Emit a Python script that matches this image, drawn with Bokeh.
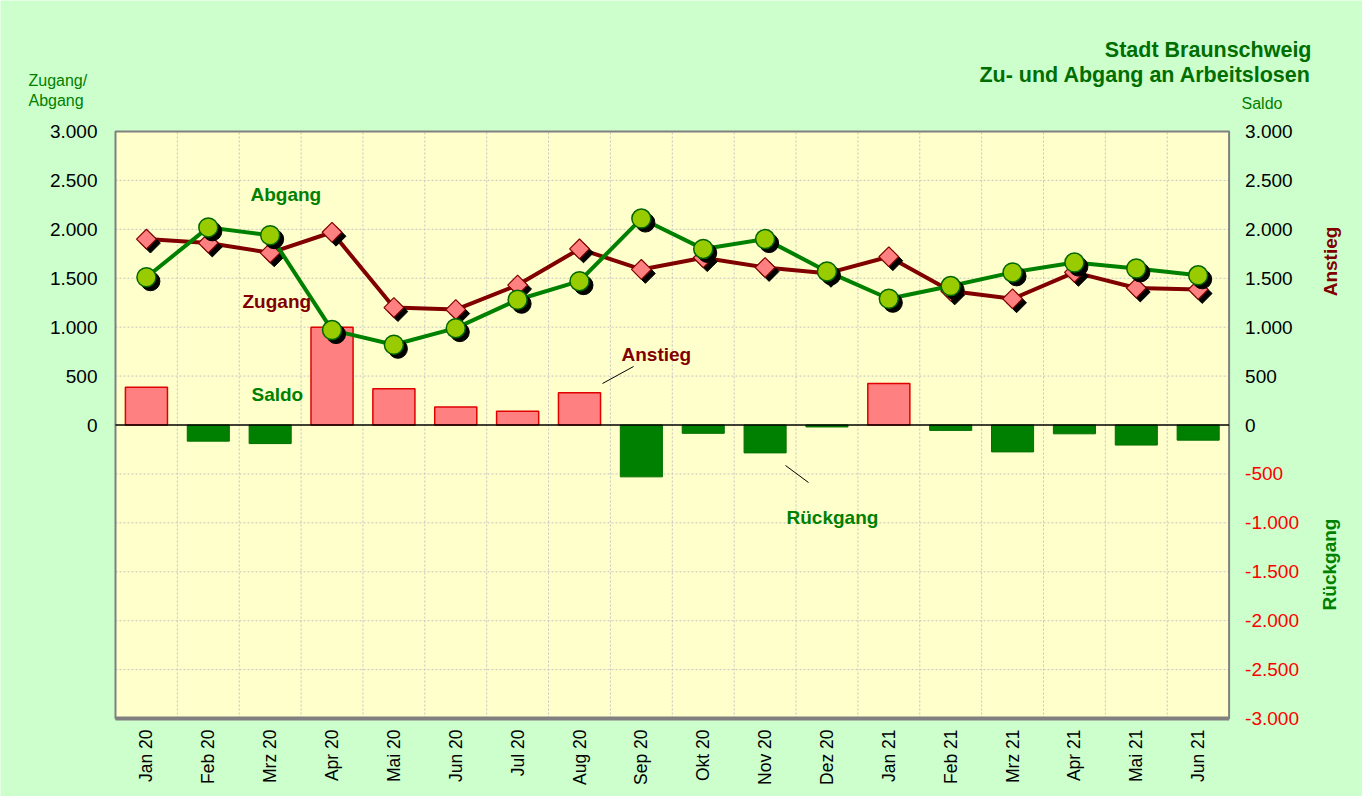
import numpy as np
from math import pi
from bokeh.plotting import figure
from bokeh.models import Range1d, FixedTicker, LinearAxis, Label
from bokeh.embed import file_html
from bokeh.resources import INLINE

# ---------------- data ----------------
months = ["Jan 20", "Feb 20", "Mrz 20", "Apr 20", "Mai 20", "Jun 20", "Jul 20",
          "Aug 20", "Sep 20", "Okt 20", "Nov 20", "Dez 20", "Jan 21", "Feb 21",
          "Mrz 21", "Apr 21", "Mai 21", "Jun 21"]
zugang = [1900, 1860, 1760, 1970, 1200, 1180, 1430, 1800, 1590, 1710, 1610,
          1550, 1720, 1370, 1290, 1560, 1400, 1385]
abgang = [1510, 2020, 1940, 970, 820, 990, 1280, 1470, 2110, 1800, 1900,
          1570, 1290, 1420, 1560, 1660, 1600, 1530]
saldo = [385, -165, -190, 1000, 370, 185, 140, 330, -530, -85, -285, -20,
         425, -55, -275, -90, -205, -155]

y_ticks = [0, 500, 1000, 1500, 2000, 2500, 3000]
y_tick_labels = ["0", "500", "1.000", "1.500", "2.000", "2.500", "3.000"]
neg_ticks = [-500, -1000, -1500, -2000, -2500, -3000]
neg_tick_labels = ["-500", "-1.000", "-1.500", "-2.000", "-2.500", "-3.000"]
y_min, y_max = -3000, 3000

# ---------------- layout (pixels) ----------------
W, H = 1362, 796
PL, PR, PT, PB = 115.0, 1228.6, 131.0, 718.0   # plot area edges
FONT = "Liberation Sans"
GREEN = "#008000"
TGREEN = "#006E00"
DARKRED = "#800000"

n = len(months)
x = np.arange(n)
z = np.array(zugang, dtype=float)
a = np.array(abgang, dtype=float)
s = np.array(saldo, dtype=float)

x_lo, x_hi = -0.5, n - 0.5
ux = (PR - PL) / (x_hi - x_lo)          # px per category
uy = (PB - PT) / (y_max - y_min)        # px per unit
x_start = x_lo - PL / ux
x_end = x_lo + (W - PL) / ux
y_top = y_max + PT / uy
y_bot = y_min - (H - PB) / uy


def dx(px):
    return x_start + px / ux


def dy(py):
    return y_top - py / uy


p = figure(width=W, height=H, output_backend="svg", toolbar_location=None,
           x_range=Range1d(x_start, x_end), y_range=Range1d(y_bot, y_top),
           min_border_left=0, min_border_right=0, min_border_top=0,
           min_border_bottom=0, background_fill_color="#CCFFCC",
           border_fill_color="#CCFFCC", outline_line_color=None)
p.styles = {"outline": "1px solid #808080", "outline-offset": "-4px"}
p.xgrid.visible = False
p.ygrid.visible = False

# plot area
p.quad(left=[x_lo], right=[x_hi], bottom=[y_min], top=[y_max],
       fill_color="#FFFFCC", line_color=None)

# grid lines
vg = x[:-1] + 0.5
p.segment(x0=vg, y0=[y_min] * len(vg), x1=vg, y1=[y_max] * len(vg),
          line_color="#C4C4C4", line_dash="2 2", line_width=1)
hg = np.array(neg_ticks + y_ticks[1:-1], dtype=float)
p.segment(x0=[x_lo] * len(hg), y0=hg, x1=[x_hi] * len(hg), y1=hg,
          line_color="#C4C4C4", line_dash="2 2", line_width=1)

# plot-area border
p.quad(left=[x_lo], right=[x_hi], bottom=[y_min], top=[y_max],
       fill_color=None, line_color="#808080", line_width=2)
p.segment(x0=[x_lo], y0=[y_min], x1=[x_hi], y1=[y_min],
          line_color="#808080", line_width=4)

# bars (Saldo)
pos = s > 0
p.vbar(x=x[pos], top=s[pos], bottom=0, width=0.68, fill_color="#FF8080",
       line_color="#E00000", line_width=1.5)
p.vbar(x=x[~pos], top=s[~pos], bottom=0, width=0.68, fill_color="#008000",
       line_color="#007000", line_width=1)
p.segment(x0=[x_lo], y0=[0], x1=[x_hi], y1=[0], line_color="black",
          line_width=1.5)

# shadow offsets (4 px right / down)
sdx = 4 / ux
sdy = 4 / uy

# Zugang
p.line(x, z, line_color=DARKRED, line_width=4)
p.scatter(x + sdx, z - sdy, marker="square", angle=pi / 4, size=14,
          fill_color="black", line_color="black")
p.scatter(x, z, marker="square", angle=pi / 4, size=14, fill_color="#FF8080",
          line_color=DARKRED, line_width=1.2)

# Abgang
p.line(x, a, line_color=GREEN, line_width=4)
p.scatter(x + sdx, a - sdy, marker="circle", size=19, fill_color="black",
          line_color="black")
p.scatter(x, a, marker="circle", size=19, fill_color="#99CC00",
          line_color="#006600", line_width=1.5)


# axes (fixed at the plot-area edges)
def style_axis(ax, size, color, standoff):
    ax.axis_line_color = None
    ax.major_tick_line_color = None
    ax.minor_tick_line_color = None
    ax.major_tick_out = 0
    ax.major_tick_in = 0
    ax.major_label_standoff = standoff
    ax.major_label_text_font = FONT
    ax.major_label_text_font_size = size
    ax.major_label_text_color = color


xa = p.xaxis[0]
xa.fixed_location = y_min
xa.ticker = FixedTicker(ticks=list(x))
xa.major_label_overrides = {int(i): m for i, m in zip(x, months)}
xa.major_label_orientation = pi / 2
style_axis(xa, "17.5px", "black", 11)

yl = p.yaxis[0]
yl.fixed_location = x_lo
yl.ticker = FixedTicker(ticks=y_ticks)
yl.major_label_overrides = dict(zip(y_ticks, y_tick_labels))
style_axis(yl, "19px", "black", 18)

yr = LinearAxis(fixed_location=x_hi, ticker=FixedTicker(ticks=y_ticks),
                major_label_overrides=dict(zip(y_ticks, y_tick_labels)))
style_axis(yr, "19px", "black", 16)
p.add_layout(yr, "right")

yr2 = LinearAxis(fixed_location=x_hi, ticker=FixedTicker(ticks=neg_ticks),
                 major_label_overrides=dict(zip(neg_ticks, neg_tick_labels)))
style_axis(yr2, "19px", "#FF0000", 16)
p.add_layout(yr2, "right")


# texts (positions given in reference pixels, mapped through the scales)
def lab(text, px, py, color, size, bold=False, align="left",
        baseline="alphabetic", angle=0.0):
    p.add_layout(Label(x=dx(px), y=dy(py), text=text, text_color=color,
                       text_font=FONT, text_font_size=size, text_align=align,
                       text_baseline=baseline, angle=angle,
                       text_font_style="bold" if bold else "normal"))


lab("Stadt Braunschweig", 1311, 49, TGREEN, "21.5px", True, "right")
lab("Zu- und Abgang an Arbeitslosen", 1311, 74, TGREEN, "21.5px", True, "right")
lab("Zugang/", 28, 80, GREEN, "16px")
lab("Abgang", 28, 100, GREEN, "16px")
lab("Saldo", 1241, 103, GREEN, "16px")
lab("Anstieg", 1330, 261, DARKRED, "19px", True, "center", "middle", pi / 2)
lab("Rückgang", 1329, 564, GREEN, "19px", True, "center", "middle", pi / 2)

lab("Abgang", 250, 193.5, GREEN, "19px", True)
lab("Zugang", 242, 300.5, DARKRED, "19px", True)
lab("Saldo", 251, 393.5, GREEN, "19px", True)
lab("Anstieg", 621, 353.5, DARKRED, "19px", True)
lab("Rückgang", 786, 516.5, GREEN, "19px", True)

# leader lines
p.segment(x0=[dx(602), dx(785)], y0=[dy(383), dy(465)],
          x1=[dx(633), dx(808)], y1=[dy(366), dy(482)],
          line_color="black", line_width=1)

open("out.html", "w").write(file_html(p, INLINE))
